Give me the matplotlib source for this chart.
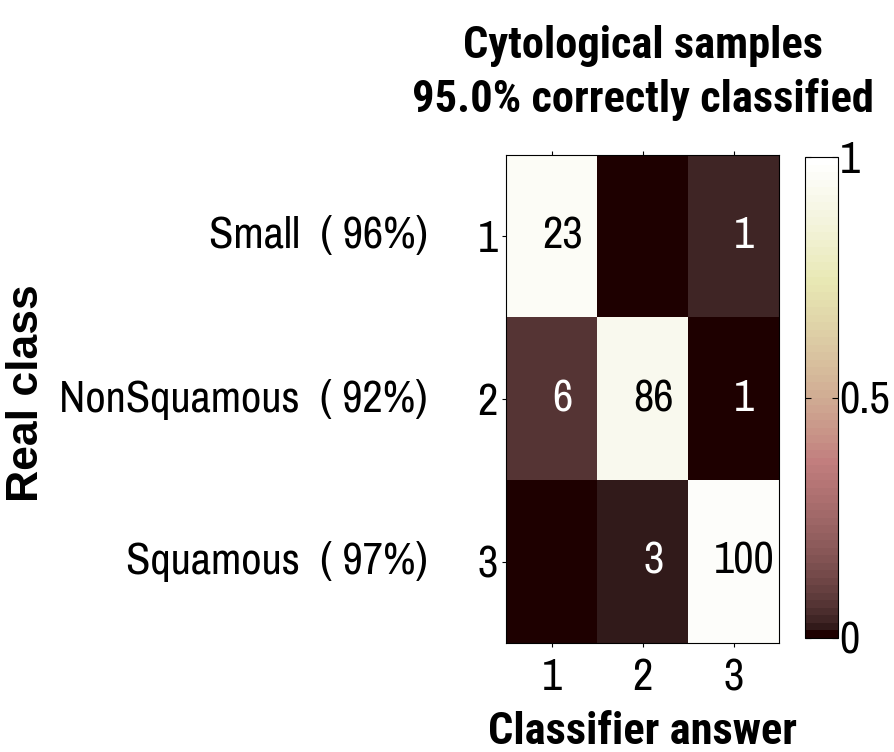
import numpy as np
import matplotlib
matplotlib.use("Agg")
import matplotlib.pyplot as plt
from matplotlib import font_manager

# confusion matrix counts (rows = real class, cols = classifier answer)
class_names = ["Small", "NonSquamous", "Squamous"]
counts = np.array([[23, 0, 1],
                   [6, 86, 1],
                   [0, 3, 100]])
tick_labels = ["1", "2", "3"]

fonts = font_manager.fontManager.ttflist
names = {f.name for f in fonts}
narrow = "Liberation Sans"
for cand in ["Archivo Narrow", "Roboto Condensed", "Liberation Sans Narrow"]:
    if cand in names:
        narrow = cand
        break

# condensed family that has a real bold face, for the title and x label
bold_narrow = narrow
prefs = ["Roboto Condensed", "Archivo Narrow", "Fira Sans Condensed", "IBM Plex Sans Condensed",
         "Encode Sans Condensed", "Open Sans Condensed", "Sofia Sans Condensed", "Saira Condensed"]
bold_names = {f.name for f in fonts if isinstance(f.weight, int) and f.weight >= 700}
for cand in prefs:
    if cand in bold_names:
        bold_narrow = cand
        break

plt.rcParams["font.family"] = [narrow, "DejaVu Sans"]

rates = counts / counts.sum(axis=1, keepdims=True)
row_pct = np.round(100 * np.diag(rates)).astype(int)
overall = 100 * np.trace(counts) / counts.sum()

fs = 32

fig = plt.figure(figsize=(8.94, 7.52), dpi=100)
ax = fig.add_axes([506 / 894, 1 - 643 / 752, 273 / 894, 488 / 752])
cax = fig.add_axes([805 / 894, 1 - 638 / 752, 33 / 894, 481 / 752])

cmap = plt.get_cmap("pink", 64)
im = ax.imshow(rates, cmap=cmap, vmin=0, vmax=1, aspect="auto", interpolation="nearest")

for i in range(3):
    for j in range(3):
        if counts[i, j] == 0:
            continue
        col = "white" if rates[i, j] < 0.5 else "black"
        ax.text(j + 0.12, i, str(counts[i, j]), ha="center", va="center",
                fontsize=fs, color=col)

ax.set_xticks(range(3))
ax.set_yticks(range(3))
ax.set_xticklabels(tick_labels, fontsize=fs)
ax.set_yticklabels(tick_labels, fontsize=fs)
ax.tick_params(top=True, right=False, direction="out", length=3, width=0.8, pad=3)
ax.tick_params(axis="x", pad=8)

for i, nm in enumerate(class_names):
    ax.text(-0.286, i, f"{nm}  ( {row_pct[i]}%)", ha="right", va="center",
            fontsize=fs, transform=ax.get_yaxis_transform())

ax.set_xlabel("Classifier answer", fontsize=fs, fontweight="bold", labelpad=9,
              family=[bold_narrow, "DejaVu Sans"])
fig.text(27 / 894, 1 - 393 / 752, "Real class", rotation=90, ha="center", va="center",
         fontsize=32, fontweight="bold", family=["Liberation Sans", "DejaVu Sans"])
fig.text(643 / 894, 1 - 73 / 752,
         f"Cytological samples\n{overall:.1f}% correctly classified",
         ha="center", va="center", fontsize=fs, fontweight="bold", linespacing=1.3,
         family=[bold_narrow, "DejaVu Sans"])

cb = fig.colorbar(im, cax=cax, ticks=[0, 0.5, 1])
cb.ax.set_yticklabels(["0", "0.5", "1"], fontsize=fs)
cb.ax.tick_params(direction="in", length=4, width=0.8, left=True, right=True, pad=1)
cb.outline.set_linewidth(0.8)

fig.savefig("out.png", dpi=100)
